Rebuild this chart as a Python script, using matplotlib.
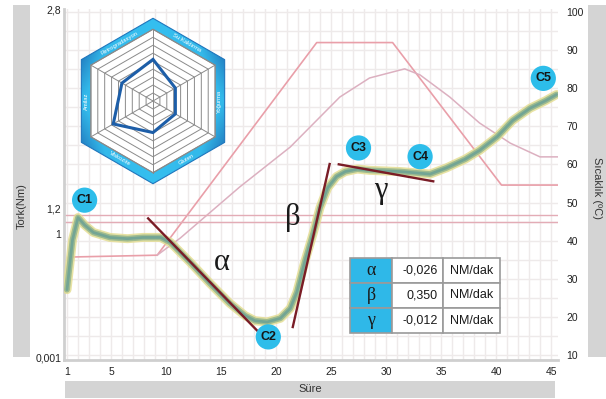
import numpy as np
import matplotlib
matplotlib.use('Agg')
import matplotlib.pyplot as plt
from matplotlib.patches import Polygon, Rectangle
from matplotlib.colors import LinearSegmentedColormap

plt.rcParams['font.family'] = ['Liberation Sans', 'DejaVu Sans']

# torque curve (Nm) over time
sure = [1.0, 1.5, 2.0, 2.6, 3.4, 4.9, 6.5, 7.9, 9.5, 10.4, 12.2, 14.0, 15.8, 17.2,
        18.1, 19.2, 20.4, 21.3, 21.9, 22.6, 23.4, 24.0, 24.7, 25.5, 26.3, 27.4,
        28.5, 31.3, 34.0, 35.5, 37.2, 38.5, 40.1, 41.5, 43.1, 44.5, 45.5]
tork = [0.55, 0.95, 1.13, 1.07, 1.01, 0.97, 0.96, 0.97, 0.97, 0.93, 0.77, 0.60,
        0.44, 0.34, 0.30, 0.29, 0.32, 0.40, 0.53, 0.77, 1.01, 1.21, 1.37, 1.46,
        1.50, 1.52, 1.51, 1.50, 1.48, 1.53, 1.60, 1.67, 1.78, 1.91, 2.01, 2.07, 2.12]

# set temperature profile (degC)
profil_t = [0.9, 1.1, 9.2, 23.7, 30.6, 40.5, 45.6]
profil = [28.0, 35.7, 36.2, 92.0, 92.0, 54.6, 54.6]

# dough temperature
hamur_t = [9.2, 11.3, 16.7, 21.3, 25.8, 28.5, 31.7, 33.1, 35.8, 38.5, 41.3, 44.0, 45.6]
hamur = [36.2, 40.7, 54.1, 64.6, 77.7, 82.7, 85.1, 83.5, 77.7, 70.9, 65.6, 62.0, 62.0]

ref_lines = [46.7, 44.9]

# slopes
egim_ad = ['α', 'β', 'γ']
egim_deger = [-0.026, 0.350, -0.012]
egim_t = [(8.3, 18.4), (21.5, 24.9), (25.6, 34.4)]
egim_tork = [(1.13, 0.21), (0.24, 1.57), (1.56, 1.42)]
egim_etiket = [(15.1, 0.77), (21.5, 1.13), (29.5, 1.35)]

# C points
c_ad = ['C1', 'C2', 'C3', 'C4', 'C5']
c_t = [2.6, 19.3, 27.5, 33.1, 44.3]
c_tork = [1.27, 0.17, 1.69, 1.62, 2.25]

# radar (vertex order: top, upper right, lower right, bottom, lower left, upper left)
radar_deger = [0.58, 0.36, 0.36, 0.44, 0.64, 0.50]
radar_kenar = ['Su Kaldırma', 'Yoğurma', 'Gluten', 'Viskozite', 'Amilaz', 'Retrogradasyon']

W, H = 606, 399
fig = plt.figure(figsize=(6.06, 3.99), dpi=100)

def fr(x0, y0, x1, y1):
    return [x0 / W, 1 - y1 / H, (x1 - x0) / W, (y1 - y0) / H]

# temperature axes (bottom layer, carries grid)
ax_t = fig.add_axes(fr(64, 9, 558, 360))
ax_t.set_zorder(1)
ax_t.set_xlim(0.727, 45.636)
ax_t.set_ylim(8.69, 100.81)
ax_t.set_yticks(range(10, 101, 10))
ax_t.set_yticks(range(10, 101, 5), minor=True)
ax_t.set_xticks([1, 5, 10, 15, 20, 25, 30, 35, 40, 45])
ax_t.set_xticks(range(1, 46), minor=True)
ax_t.grid(which='both', color='#eeeaea', lw=1.0)
for s in ['top', 'right']:
    ax_t.spines[s].set_visible(False)
for s in ['left', 'bottom']:
    ax_t.spines[s].set_color('#cfcfcf')
    ax_t.spines[s].set_linewidth(2)

ax_t.plot(profil_t, profil, color='#e99fa9', lw=1.2)
ax_t.plot(hamur_t, hamur, color='#dcb0c0', lw=1.1)
for r in ref_lines:
    ax_t.axhline(r, color='#e3acb6', lw=1.0)

# torque axes
ax_q = ax_t.twinx()
ax_q.set_zorder(2)
ax_q.patch.set_visible(False)
ax_q.set_ylim(-0.016, 2.808)
ax_q.set_yticks([0.001, 1.0, 1.2, 2.8])
ax_q.set_yticklabels(['0,001', '1', '1,2', '2,8'])
for s in ax_q.spines.values():
    s.set_visible(False)

ax_t.yaxis.tick_right()
ax_q.yaxis.tick_left()
ax_t.tick_params(which='both', length=0, labelsize=7.5, labelcolor='#222222')
ax_t.tick_params(axis='y', pad=6)
ax_t.tick_params(axis='x', pad=5)
ax_q.tick_params(length=0, labelsize=7.5, labelcolor='#222222', pad=2)

ax_q.plot(sure, tork, color='#e3dc8e', lw=6.5, alpha=0.8, solid_capstyle='round', solid_joinstyle='round')
ax_q.plot(sure, tork, color='#9fbb8f', lw=4.2, solid_capstyle='round', solid_joinstyle='round')
ax_q.plot(sure, tork, color='#6fa395', lw=2.0, alpha=0.9, solid_capstyle='round', solid_joinstyle='round')

for (t0, t1), (q0, q1) in zip(egim_t, egim_tork):
    ax_q.plot([t0, t1], [q0, q1], color='#7a1c26', lw=1.7, solid_capstyle='butt')
for ad, (x, y) in zip(egim_ad, egim_etiket):
    ax_q.text(x, y, ad, family='Liberation Serif', fontsize=22, color='#1a1a1a',
              ha='center', va='center')

ax_q.scatter(c_t, c_tork, s=330, color='#2dbdea', edgecolors='none', zorder=5)
for ad, x, y in zip(c_ad, c_t, c_tork):
    ax_q.text(x, y, ad, fontsize=9, fontweight='bold', color='#151515',
              ha='center', va='center', zorder=6)

# radar inset
ax_r = fig.add_axes(fr(62, 10, 244, 192))
ax_r.set_zorder(3)
ax_r.set_aspect('equal')
ax_r.axis('off')
aci = np.radians([90, 30, -30, -90, -150, 150])
R0 = 0.867

def hexa(r):
    return np.column_stack([r * np.cos(aci), r * np.sin(aci)])

# blue frame, lighter in the middle, darker towards the side corners
dis = Polygon(hexa(1.0), closed=True, facecolor='none', edgecolor='#1f76bd', lw=0.8, zorder=2)
ax_r.add_patch(dis)
gx = np.abs(np.linspace(-1, 1, 200))[None, :].repeat(200, axis=0)
gy = np.abs(np.linspace(-1, 1, 200))[:, None].repeat(200, axis=1)
cmap = LinearSegmentedColormap.from_list('band', [(0, '#35bff0'), (0.6, '#33b9ea'),
                                                  (1.0, '#1a5fab')])
im = ax_r.imshow(gx * (0.55 + 0.45 * gy), extent=(-1, 1, -1, 1), cmap=cmap,
                 vmin=0, vmax=0.8, zorder=1)
im.set_clip_path(dis)
ax_r.add_patch(Polygon(hexa(R0), closed=True, facecolor='white', edgecolor='#8a8a8a', lw=0.8, zorder=3))
for k in range(1, 10):
    ax_r.add_patch(Polygon(hexa(R0 * k / 9), closed=True, fill=False, edgecolor='#8a8a8a',
                           lw=0.7, zorder=4))
for a in aci:
    ax_r.plot([0, R0 * np.cos(a)], [0, R0 * np.sin(a)], color='#8a8a8a', lw=0.7, zorder=4)
v = np.array(radar_deger) * R0
ax_r.add_patch(Polygon(np.column_stack([v * np.cos(aci), v * np.sin(aci)]), closed=True,
                       fill=False, edgecolor='#1d5ea8', lw=2.2, zorder=5))
orta = [60, 0, -60, -120, 180, 120]
ap = (1.0 + R0) / 2 * np.cos(np.radians(30))
for ad, phi in zip(radar_kenar, orta):
    rot = phi - 90
    while rot <= -90:
        rot += 180
    while rot > 90:
        rot -= 180
    ax_r.text(ap * np.cos(np.radians(phi)), ap * np.sin(np.radians(phi)), ad,
              fontsize=4.2, color='white', rotation=rot, ha='center', va='center',
              rotation_mode='anchor', zorder=6)
ax_r.set_xlim(-1.1, 1.1)
ax_r.set_ylim(-1.1, 1.1)

# overlay in pixel coordinates: label boxes and table
ov = fig.add_axes([0, 0, 1, 1])
ov.set_zorder(4)
ov.patch.set_visible(False)
ov.set_xlim(0, W)
ov.set_ylim(H, 0)
ov.axis('off')
kutu = '#d4d4d4'
ov.add_patch(Rectangle((13, 5), 17, 352, facecolor=kutu, edgecolor='none'))
ov.add_patch(Rectangle((588, 5), 18, 352, facecolor=kutu, edgecolor='none'))
ov.add_patch(Rectangle((65, 381), 490, 17, facecolor=kutu, edgecolor='none'))
ov.text(21.5, 206, 'Tork(Nm)', rotation=90, fontsize=8, color='#333333', ha='center', va='center')
ov.text(597, 188, 'Sıcaklık (ºC)', rotation=-90, fontsize=8, color='#333333', ha='center', va='center')
ov.text(310, 389.5, 'Süre', fontsize=8, color='#333333', ha='center', va='center')

kx = [350, 392, 443, 500]
ky = [258, 283, 308, 333]
for i, (ad, d) in enumerate(zip(egim_ad, egim_deger)):
    y0, y1 = ky[i], ky[i + 1]
    ov.add_patch(Rectangle((kx[0], y0), kx[1] - kx[0], y1 - y0, facecolor='#2fb8e8',
                           edgecolor='#9a9a9a', lw=1.2))
    ov.add_patch(Rectangle((kx[1], y0), kx[2] - kx[1], y1 - y0, facecolor='white',
                           edgecolor='#9a9a9a', lw=1.2))
    ov.add_patch(Rectangle((kx[2], y0), kx[3] - kx[2], y1 - y0, facecolor='white',
                           edgecolor='#9a9a9a', lw=1.2))
    yc = (y0 + y1) / 2
    ov.text((kx[0] + kx[1]) / 2, yc, ad, family='Liberation Serif', fontsize=13,
            color='#1a1a1a', ha='center', va='center')
    ov.text(kx[2] - 5, yc, f'{d:.3f}'.replace('.', ','), fontsize=9, color='#1a1a1a',
            ha='right', va='center')
    ov.text((kx[2] + kx[3]) / 2, yc, 'NM/dak', fontsize=9, color='#1a1a1a',
            ha='center', va='center')

fig.savefig('out.png', dpi=100, facecolor='white')
